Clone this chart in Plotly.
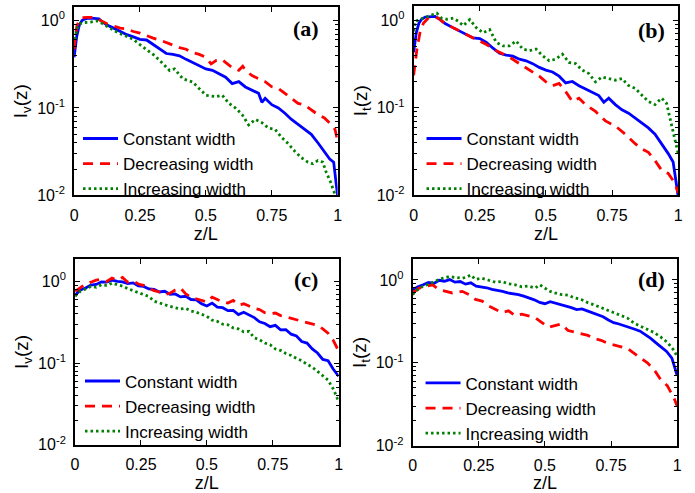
import plotly.graph_objects as go

# ---------------- data ----------------
labels = ["Constant width", "Decreasing width", "Increasing width"]
x_ticks = [0, 0.25, 0.5, 0.75, 1]
x_tick_text = ["0", "0.25", "0.5", "0.75", "1"]
y_ticks = [0.01, 0.1, 1]
y_tick_text = ["10<sup>-2</sup>", "10<sup>-1</sup>", "10<sup>0</sup>"]

# panel (a)
za_const = [0, 0.01, 0.02, 0.03, 0.04, 0.05, 0.075, 0.094, 0.106, 0.125, 0.15, 0.175, 0.2, 0.225, 0.25,
            0.275, 0.3, 0.325, 0.35, 0.375, 0.4, 0.425, 0.45, 0.475, 0.5, 0.525, 0.55, 0.575, 0.6, 0.625,
            0.65, 0.675, 0.7, 0.7125, 0.725, 0.75, 0.775, 0.8, 0.825, 0.85, 0.875, 0.9, 0.925, 0.95, 0.97,
            0.985, 1.0]
Ia_const = [0.38, 0.66, 0.89, 1.0, 1.04, 1.06, 1.06, 1.05, 0.975, 0.89, 0.82, 0.75, 0.69, 0.65, 0.61,
            0.60, 0.53, 0.47, 0.42, 0.41, 0.395, 0.36, 0.33, 0.305, 0.28, 0.27, 0.246, 0.225, 0.19, 0.20,
            0.174, 0.16, 0.147, 0.116, 0.129, 0.109, 0.10, 0.087, 0.074, 0.065, 0.057, 0.050, 0.040, 0.032,
            0.026, 0.024, 0.0098]
za_decr = [0, 0.01, 0.02, 0.03, 0.05, 0.075, 0.09, 0.1, 0.125, 0.15, 0.175, 0.2, 0.225, 0.25, 0.275,
           0.3, 0.325, 0.35, 0.375, 0.4, 0.425, 0.45, 0.475, 0.5, 0.52, 0.54, 0.56, 0.575, 0.6, 0.625,
           0.64, 0.65, 0.675, 0.7, 0.725, 0.75, 0.775, 0.8, 0.825, 0.85, 0.875, 0.9, 0.925, 0.95, 0.975,
           0.99, 1.0]
Ia_decr = [0.47, 0.86, 1.02, 1.08, 1.09, 1.09, 1.06, 1.0, 0.92, 0.86, 0.82, 0.80, 0.75, 0.72, 0.67,
           0.63, 0.60, 0.56, 0.53, 0.49, 0.47, 0.43, 0.41, 0.38, 0.32, 0.35, 0.36, 0.33, 0.29, 0.27,
           0.30, 0.27, 0.235, 0.216, 0.20, 0.175, 0.167, 0.147, 0.129, 0.113, 0.108, 0.095, 0.084, 0.077,
           0.065, 0.057, 0.042]
za_incr = [0.0025, 0.01, 0.02, 0.0375, 0.0625, 0.0875, 0.106, 0.1375, 0.169, 0.2, 0.225, 0.25, 0.275,
           0.3, 0.325, 0.3625, 0.381, 0.4125, 0.45, 0.475, 0.5, 0.5375, 0.5625, 0.5875, 0.6125, 0.6375,
           0.6625, 0.6875, 0.7125, 0.7375, 0.7625, 0.7875, 0.8125, 0.8375, 0.8625, 0.8875, 0.906, 0.925,
           0.944, 0.956, 0.975, 0.9875, 0.994]
Ia_incr = [0.61, 0.79, 0.92, 0.95, 0.96, 0.99, 0.93, 0.82, 0.72, 0.66, 0.61, 0.53, 0.47,
           0.41, 0.35, 0.268, 0.28, 0.216, 0.198, 0.167, 0.14, 0.135, 0.14, 0.113, 0.10, 0.084,
           0.064, 0.074, 0.068, 0.059, 0.057, 0.046, 0.039, 0.032, 0.027, 0.024, 0.023, 0.025,
           0.024, 0.0186, 0.0138, 0.0107, 0.0081]

# panel (b)
zb_const = [0, 0.01, 0.02, 0.03, 0.044, 0.0625, 0.081, 0.1, 0.119, 0.15, 0.175, 0.2, 0.225, 0.25, 0.275,
            0.3, 0.325, 0.35, 0.375, 0.4, 0.425, 0.45, 0.475, 0.5, 0.525, 0.55, 0.575, 0.6, 0.625, 0.65,
            0.675, 0.7, 0.719, 0.7375, 0.7625, 0.7875, 0.8125, 0.8375, 0.8625, 0.8875, 0.9125, 0.9375,
            0.9625, 0.981, 1.0]
Ib_const = [0.43, 0.72, 0.93, 1.03, 1.09, 1.11, 1.11, 1.02, 0.92, 0.82, 0.75, 0.69, 0.63, 0.62, 0.56,
            0.48, 0.42, 0.40, 0.39, 0.36, 0.345, 0.32, 0.29, 0.27, 0.257, 0.23, 0.193, 0.20, 0.179, 0.164,
            0.15, 0.138, 0.116, 0.129, 0.109, 0.095, 0.087, 0.077, 0.068, 0.059, 0.050, 0.039,
            0.030, 0.024, 0.0098]
zb_decr = [0, 0.0125, 0.025, 0.0375, 0.056, 0.075, 0.094, 0.1125, 0.15, 0.1875, 0.2125, 0.2375, 0.275,
           0.3125, 0.3375, 0.3625, 0.4, 0.4375, 0.475, 0.5, 0.525, 0.55, 0.575, 0.6, 0.625, 0.65, 0.6875,
           0.725, 0.7625, 0.8, 0.8375, 0.8625, 0.8875, 0.9125, 0.9375, 0.9625, 0.9875, 1.0]
Ib_decr = [0.235, 0.47, 0.75, 0.93, 1.06, 1.09, 1.06, 0.95, 0.82, 0.72, 0.66, 0.61, 0.53,
           0.45, 0.41, 0.38, 0.32, 0.27, 0.23, 0.198, 0.179, 0.19, 0.153, 0.118, 0.129, 0.109, 0.091,
           0.071, 0.062, 0.050, 0.039, 0.034, 0.031, 0.025, 0.0194, 0.0178, 0.0138, 0.0107]
zb_incr = [0, 0.006, 0.025, 0.05, 0.075, 0.0875, 0.106, 0.125, 0.15, 0.169, 0.1875, 0.2125, 0.2375,
           0.2625, 0.2875, 0.3125, 0.3375, 0.3625, 0.3875, 0.4125, 0.4375, 0.4625, 0.4875, 0.5125,
           0.5375, 0.5625, 0.5875, 0.6125, 0.6375, 0.6625, 0.6875, 0.7125, 0.7375, 0.7625, 0.7875,
           0.8125, 0.8375, 0.8625, 0.8875, 0.9125, 0.9375, 0.956, 0.975, 0.991, 1.0]
Ib_incr = [0.75, 0.975, 1.03, 1.09, 1.16, 1.21, 1.06, 1.03, 1.06, 0.975, 0.87, 1.02, 0.82,
           0.72, 0.785, 0.56, 0.51, 0.51, 0.58, 0.47, 0.45, 0.47, 0.395, 0.345,
           0.36, 0.41, 0.33, 0.32, 0.27, 0.246, 0.198, 0.225, 0.216, 0.207, 0.216,
           0.18, 0.167, 0.14, 0.118, 0.109, 0.129, 0.113, 0.065, 0.039, 0.030]

# panels (c) and (d)
zc = [0, 0.02, 0.04, 0.06, 0.08, 0.1, 0.12, 0.14, 0.16, 0.18, 0.2, 0.22, 0.24, 0.26, 0.28, 0.3,
      0.32, 0.34, 0.36, 0.38, 0.4, 0.42, 0.44, 0.46, 0.48, 0.5, 0.52, 0.54, 0.56, 0.58, 0.6, 0.62,
      0.64, 0.66, 0.68, 0.7, 0.72, 0.74, 0.76, 0.78, 0.8, 0.82, 0.84, 0.86, 0.88, 0.9, 0.92, 0.94,
      0.96, 0.98, 1.0]
Ic_const = [0.678, 0.787, 0.831, 0.903, 0.92, 0.99, 0.98, 1.04, 1.0, 0.99, 0.94, 0.96, 0.88, 0.87,
            0.81, 0.80, 0.744, 0.758, 0.697, 0.704, 0.647, 0.659, 0.601, 0.596, 0.533, 0.50, 0.543,
            0.486, 0.477, 0.439, 0.443, 0.393, 0.419, 0.386, 0.361, 0.32, 0.306, 0.279, 0.29, 0.255,
            0.257, 0.226, 0.215, 0.184, 0.176, 0.149, 0.133, 0.111, 0.107, 0.084, 0.069]
Ic_decr = [0.758, 0.831, 0.93, 0.98, 1.04, 1.06, 1.0, 1.10, 1.04, 1.12, 0.98, 1.02, 0.93, 0.895,
           0.831, 0.772, 0.744, 0.691, 0.717, 0.787, 0.831, 0.704, 0.641, 0.613, 0.596, 0.563, 0.641,
           0.601, 0.563, 0.543, 0.585, 0.514, 0.533, 0.50, 0.468, 0.452, 0.415, 0.404, 0.411, 0.382,
           0.368, 0.348, 0.336, 0.324, 0.312, 0.30, 0.29, 0.262, 0.232, 0.189, 0.141]
Ic_incr = [0.659, 0.758, 0.81, 0.87, 0.847, 0.912, 0.895, 0.955, 0.912, 0.878, 0.816, 0.772, 0.717,
           0.678, 0.654, 0.574, 0.543, 0.519, 0.495, 0.477, 0.46, 0.468, 0.435, 0.419, 0.397, 0.375,
           0.336, 0.324, 0.30, 0.295, 0.269, 0.262, 0.241, 0.245, 0.204, 0.193, 0.176, 0.168, 0.149,
           0.143, 0.131, 0.124, 0.114, 0.107, 0.097, 0.089, 0.079, 0.069, 0.062, 0.048, 0.034]

Id_const = [0.762, 0.826, 0.873, 0.93, 0.905, 0.99, 0.964, 1.01, 0.939, 0.956, 0.889, 0.922, 0.842,
            0.826, 0.804, 0.769, 0.755, 0.728, 0.696, 0.683, 0.665, 0.636, 0.607, 0.575, 0.535, 0.516,
            0.545, 0.525, 0.507, 0.48, 0.463, 0.438, 0.446, 0.423, 0.40, 0.379, 0.359, 0.328, 0.305,
            0.294, 0.278, 0.268, 0.254, 0.241, 0.22, 0.197, 0.174, 0.156, 0.137, 0.114, 0.070]
zd_decr = [0, 0.025, 0.05, 0.075, 0.1, 0.125, 0.15, 0.1875, 0.2125, 0.2375, 0.2625, 0.2875, 0.3125,
           0.3375, 0.3625, 0.3875, 0.4125, 0.4375, 0.4625, 0.4875, 0.5125, 0.5375, 0.5625, 0.5875,
           0.6125, 0.6375, 0.6625, 0.6875, 0.7125, 0.7375, 0.7625, 0.7875, 0.8125, 0.8375, 0.8625,
           0.8875, 0.9125, 0.9375, 0.9625, 0.9875, 1.0]
Id_decr = [0.696, 0.797, 0.834, 0.873, 0.762, 0.728, 0.696, 0.728, 0.665, 0.581, 0.555, 0.484, 0.442,
           0.404, 0.423, 0.369, 0.386, 0.369, 0.352, 0.308, 0.268, 0.281, 0.294, 0.245, 0.234, 0.224,
           0.214, 0.195, 0.187, 0.171, 0.163, 0.156, 0.149, 0.13, 0.114, 0.10, 0.083, 0.063, 0.053,
           0.038, 0.030]
zd_incr = [0, 0.019, 0.0375, 0.0625, 0.0875, 0.1125, 0.1375, 0.1625, 0.1875, 0.206, 0.219, 0.2375,
           0.2625, 0.2875, 0.3125, 0.3375, 0.3625, 0.3875, 0.4125, 0.4375, 0.4625, 0.481, 0.5, 0.519,
           0.5375, 0.5625, 0.5875, 0.6125, 0.6375, 0.6625, 0.6875, 0.7125, 0.7375, 0.7625, 0.7875,
           0.8125, 0.8375, 0.8625, 0.8875, 0.9125, 0.9375, 0.9625, 0.9875, 1.0]
Id_incr = [0.665, 0.762, 0.834, 0.889, 0.973, 1.046, 1.095, 1.065, 1.046, 1.085, 1.146, 1.018,
           1.046, 0.99, 0.939, 0.956, 0.897, 0.873, 0.826, 0.842, 0.797, 0.873, 0.797, 0.728,
           0.696, 0.665, 0.653, 0.607, 0.581, 0.53, 0.498, 0.463, 0.431, 0.404, 0.379,
           0.346, 0.30, 0.274, 0.25, 0.232, 0.205, 0.177, 0.142, 0.119]

panels = [
    dict(tag="(a)", ylab="I<sub>v</sub>(z)",
         series=[(za_const, Ia_const), (za_decr, Ia_decr), (za_incr, Ia_incr)]),
    dict(tag="(b)", ylab="I<sub>t</sub>(z)",
         series=[(zb_const, Ib_const), (zb_decr, Ib_decr), (zb_incr, Ib_incr)]),
    dict(tag="(c)", ylab="I<sub>v</sub>(z)",
         series=[(zc, Ic_const), (zc, Ic_decr), (zc, Ic_incr)]),
    dict(tag="(d)", ylab="I<sub>t</sub>(z)",
         series=[(zc, Id_const), (zd_decr, Id_decr), (zd_incr, Id_incr)]),
]

# ---------------- styling / layout ----------------
W, H = 695, 493
colors = ["#0000FF", "#FF0000", "#008000"]
dashes = ["solid", "10px,7px", "2.5px,3px"]
widths = [2.8, 2.8, 2.8]

# pixel boxes (left, right, top, bottom)
boxes = [(71, 338, 7, 199), (415, 683, 6, 199), (72, 339, 264, 453), (414, 682, 264, 454)]
yranges = [[-2, 0.157], [-2, 0.165], [-2, 0.273], [-2, 0.25]]
legend_pos = [(75, 167), (423, 167), (77, 414), (422, 416)]
tag_pos = [(306, 29), (656, 31), (306, 285), (656, 285)]

FONT = "Liberation Sans, Arial, Helvetica, sans-serif"

fig = go.Figure()
layout = dict(
    width=W, height=H, margin=dict(l=0, r=0, t=0, b=0),
    paper_bgcolor="white", plot_bgcolor="white",
    font=dict(family=FONT, color="black", size=16),
    annotations=[],
)

for i, p in enumerate(panels):
    n = "" if i == 0 else str(i + 1)
    xa, ya = "x" + n, "y" + n
    lg = "legend" + n
    for k, (xs, ys) in enumerate(p["series"]):
        fig.add_trace(go.Scatter(
            x=xs, y=ys, mode="lines", name=labels[k],
            xaxis=xa, yaxis=ya, legend=lg,
            line=dict(color=colors[k], width=widths[k], dash=dashes[k]),
            showlegend=True,
        ))
    l, r, t, b = boxes[i]
    layout["xaxis" + n] = dict(
        domain=[l / W, r / W], anchor=ya, range=[0, 1],
        tickmode="array", tickvals=x_ticks, ticktext=x_tick_text,
        ticks="inside", ticklen=5, tickwidth=1, tickcolor="black",
        showline=True, linecolor="black", linewidth=2, mirror="allticks",
        showgrid=False, zeroline=False, ticklabelstandoff=4,
        tickfont=dict(size=16, family=FONT, color="black"),
        title=dict(text="z/L", font=dict(size=18, family=FONT, color="black"), standoff=2),
    )
    layout["yaxis" + n] = dict(
        domain=[1 - b / H, 1 - t / H], anchor=xa, type="log", range=yranges[i],
        tickmode="array", tickvals=y_ticks, ticktext=y_tick_text,
        ticks="inside", ticklen=5, tickwidth=1, tickcolor="black",
        minor=dict(ticks="inside", ticklen=3, tickcolor="black", dtick="D1", showgrid=False),
        showline=True, linecolor="black", linewidth=2, mirror="allticks",
        showgrid=False, zeroline=False, ticklabelstandoff=4,
        tickfont=dict(size=16, family=FONT, color="black"),
        title=dict(text=p["ylab"], font=dict(size=19, family=FONT, color="black"), standoff=4),
    )
    lx, ly = legend_pos[i]
    layout[lg] = dict(
        x=lx / W, y=1 - ly / H, xanchor="left", yanchor="middle",
        xref="paper", yref="paper",
        bgcolor="rgba(0,0,0,0)", borderwidth=0, itemwidth=35,
        tracegroupgap=0, font=dict(size=17, family=FONT, color="black"),
    )
    tx, ty = tag_pos[i]
    layout["annotations"].append(dict(
        text="<b>%s</b>" % p["tag"], x=tx / W, y=1 - ty / H, xref="paper", yref="paper",
        xanchor="center", yanchor="middle", showarrow=False,
        font=dict(size=22, family="Liberation Serif, Times New Roman, serif", color="black"),
    ))

fig.update_layout(**layout)
fig.write_html("out.html")
